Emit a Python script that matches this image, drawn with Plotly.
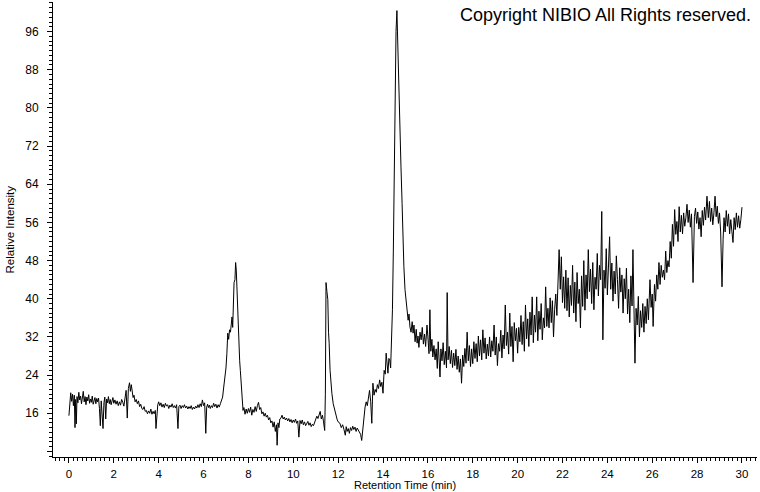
import plotly.graph_objects as go

# Chromatogram, split into named segments: (time min, relative intensity)
seg_baseline_t = [0.00,0.04,0.08,0.12,0.16,0.20,0.24,0.27,0.30,0.33,0.36,0.40,0.44,0.48,0.52,0.56,0.60,0.64,0.68,0.72,
                  0.76,0.80,0.84,0.88,0.92,0.96,1.00,1.04,1.08,1.12,1.16,1.20,1.24,1.28,1.32,1.36,1.40,1.44,1.48,1.52,
                  1.56,1.60,1.64,1.68,1.72,1.76,1.80,1.84,1.88,1.92,1.96,2.00,2.05,2.10,2.15,2.20,2.25,2.30,2.35,2.40,
                  2.45,2.50,2.55,2.60,2.65,2.70,2.74,2.78,2.82,2.86,2.90,2.95,3.00,3.05,3.10,3.15,3.20,3.25,3.30,3.35,
                  3.40,3.45,3.50,3.55,3.60,3.65,3.70,3.75,3.80,3.85,3.88,3.92,3.96,4.00,4.05,4.10,4.15,4.20,4.25,4.30,
                  4.35,4.40,4.45,4.50,4.55,4.60,4.65,4.70,4.75,4.80,4.86,4.90,4.95,5.00,5.05,5.10,5.15,5.20,5.25,5.30,
                  5.35,5.40,5.45,5.50,5.55,5.60,5.65,5.70,5.75,5.80,5.85,5.90,5.95,6.00,6.05,6.10,6.14,6.18,6.22,6.26,
                  6.30,6.35,6.40,6.45,6.50,6.55,6.60,6.65,6.70,6.75,6.80]
seg_baseline_v = [15.5,19.0,20.3,18.5,20.0,17.6,19.8,13.0,18.9,13.8,19.5,18.2,20.4,18.8,19.6,18.0,19.2,20.6,18.4,19.5,
                  17.8,19.4,18.6,19.9,18.1,19.0,18.3,19.6,17.9,18.8,19.3,18.0,19.1,18.4,19.2,17.0,13.4,18.6,14.0,12.8,
                  18.2,19.4,14.8,19.0,18.2,19.5,18.0,18.9,17.8,18.6,19.3,18.1,18.8,17.9,18.6,17.6,18.4,17.7,18.9,18.3,
                  17.5,19.2,20.8,15.0,21.2,22.4,20.6,22.0,21.0,19.3,19.8,18.4,18.9,18.0,18.6,17.4,17.9,17.0,16.8,17.4,
                  16.4,16.6,15.9,16.5,16.0,16.9,15.8,16.4,15.9,16.6,12.8,16.2,17.8,18.4,17.6,18.2,17.3,17.9,17.2,18.1,
                  17.5,17.8,17.0,17.7,17.3,18.0,17.2,17.6,17.1,17.8,12.8,17.4,17.7,17.0,17.6,17.2,17.8,17.1,17.5,16.9,
                  17.4,17.0,17.6,16.8,17.3,16.9,17.5,17.1,17.8,17.2,18.0,17.4,18.8,17.6,18.2,11.8,17.3,17.9,17.2,17.7,
                  17.0,17.6,17.2,18.1,17.4,17.9,17.1,17.8,17.3,18.0,18.6]

seg_peaks_t = [6.85,6.90,6.95,7.00,7.04,7.08,7.12,7.16,7.20,7.24,7.27,7.30,7.33,7.36,7.40,7.43,7.46,7.49,7.52,7.55,
               7.58,7.61,7.64,7.68,7.72,7.76,7.80,7.85,7.90,7.95,8.00,8.05,8.10,8.15,8.20,8.25,8.30,8.35,8.40,8.45,
               8.50,8.55,8.60,8.65,8.70,8.75,8.80,8.85,8.90,8.95,9.00,9.05,9.10,9.15,9.20,9.25,9.28,9.32,9.36,9.40,
               9.45,9.50,9.55,9.60,9.65,9.70,9.75,9.80,9.85,9.90,9.95,10.00,10.05,10.10,10.15,10.20,10.25,10.30,10.35,10.40,
               10.45,10.50,10.55,10.60,10.65,10.70,10.75,10.80,10.85,10.90,10.95,11.00,11.05,11.10,11.15,11.20,11.25,11.30,11.35,11.40,
               11.43,11.46,11.50,11.54,11.57,11.60,11.64,11.68,11.72,11.78,11.84,11.90,11.96,12.02,12.08,12.14,12.20,12.26,12.32,12.36,
               12.40,12.45,12.50,12.55,12.60,12.65,12.70,12.75,12.80,12.85,12.90,12.95,13.00,13.05,13.10,13.15,13.20,13.25,13.30,13.35,
               13.40,13.45,13.50,13.55,13.60,13.65,13.70,13.75,13.80,13.85,13.90,13.95,14.00,14.05,14.10,14.14,14.18,14.22,14.26,14.30,
               14.34,14.38,14.42,14.46,14.50,14.54,14.58,14.62,14.66,14.70,14.75,14.80,14.85,14.89,14.93,14.98,15.03,15.07,15.12,15.16,
               15.20,15.25,15.30,15.34,15.38,15.43,15.48,15.52,15.56,15.60,15.65,15.70,15.75,15.80,15.85,15.90,15.96,16.00,16.05,16.09,
               16.13,16.18,16.22,16.27,16.32,16.37,16.42,16.46,16.50]
seg_peaks_v = [19.4,21.5,23.0,25.5,28.5,32.8,31.5,33.5,33.0,35.5,36.2,34.0,38.5,43.4,44.0,47.6,46.0,41.9,36.0,30.7,
               29.3,27.0,25.0,21.8,19.4,16.6,17.2,15.8,16.9,16.0,17.0,16.2,17.3,15.6,16.8,16.2,17.4,16.4,17.6,18.3,
               16.8,17.2,15.9,16.3,15.4,16.0,15.2,15.6,14.6,15.1,14.0,14.4,13.1,14.2,12.2,13.6,9.3,14.0,13.0,14.8,
               15.0,15.6,14.8,15.2,14.6,15.0,14.4,14.9,14.2,14.7,14.0,14.6,14.1,14.8,13.9,14.4,11.0,14.5,13.8,14.6,
               13.6,14.2,13.4,13.9,14.3,13.5,14.0,13.2,13.7,13.4,14.2,14.8,15.4,14.9,16.0,16.4,14.8,15.6,14.2,12.4,
               20.0,43.4,41.5,39.8,33.0,30.7,25.0,21.5,20.2,18.0,16.6,15.4,14.6,14.1,13.9,13.0,13.6,12.6,11.4,13.2,
               12.2,12.8,11.8,13.0,12.4,13.3,12.6,13.1,12.2,12.9,12.4,12.0,11.6,10.3,12.8,15.0,17.3,18.4,17.6,19.2,
               20.8,18.5,13.9,22.3,19.8,21.0,20.4,22.0,21.2,23.0,21.6,22.5,20.2,25.0,24.2,28.6,26.0,24.4,27.5,27.2,
               25.5,32.0,37.7,50.0,63.0,85.5,96.0,100.4,92.4,81.9,73.0,67.8,60.0,52.0,46.7,41.9,39.0,37.7,35.5,36.8,
               34.1,33.0,35.2,32.8,34.5,31.0,33.6,30.7,32.2,29.8,33.0,31.4,34.0,30.5,32.6,30.0,34.5,32.0,28.5,37.7,
               29.0,31.5,27.8,30.2,27.2,29.5,25.4,31.0,26.0]

seg_rise_t = [16.54,16.58,16.63,16.68,16.73,16.78,16.83,16.86,16.90,16.95,17.00,17.05,17.10,17.15,17.20,17.25,17.30,17.35,17.40,17.45,
              17.50,17.55,17.60,17.65,17.70,17.75,17.80,17.85,17.90,17.95,18.00,18.05,18.10,18.15,18.20,18.25,18.30,18.35,18.40,18.45,
              18.50,18.55,18.60,18.65,18.70,18.75,18.80,18.85,18.90,18.95,19.00,19.05,19.10,19.15,19.20,19.25,19.30,19.35,19.40,19.45,
              19.50,19.55,19.60,19.65,19.70,19.75,19.80,19.85,19.90,19.95,20.00,20.05,20.10,20.15,20.20,20.25,20.30,20.35,20.40,20.45,
              20.50,20.55,20.60,20.65,20.70,20.75,20.80,20.85,20.90,20.95,21.00,21.05,21.10,21.15,21.20,21.25,21.30,21.35,21.40,21.45,
              21.50,21.55,21.60,21.65,21.70,21.75,21.80,21.85,21.90,21.95,22.00,22.05,22.10,22.15,22.20,22.25,22.30,22.35,22.40,22.45,
              22.50,22.55,22.60,22.65,22.70,22.75,22.80,22.85,22.90,22.95,23.00,23.05,23.10,23.15,23.20,23.25,23.30,23.35,23.40,23.45,
              23.50,23.55,23.60,23.65,23.70,23.75,23.80,23.85,23.90,23.95,24.00,24.05,24.10,24.15,24.20,24.25,24.30,24.35,24.40,24.45,
              24.50,24.55,24.60,24.65,24.70,24.75,24.80,24.85,24.90,24.95,25.00,25.05,25.10,25.14,25.18,25.23,25.28,25.33,25.38,25.43,
              25.48,25.53,25.58,25.63,25.68,25.73,25.78,25.83,25.90,25.95,26.00,26.04,26.10,26.15,26.20,26.25,26.30,26.35,26.40,26.45,
              26.50,26.55,26.60,26.65,26.70,26.75,26.80,26.85,26.90,26.95]
seg_rise_v = [23.6,29.5,27.0,30.8,26.2,29.0,25.5,41.3,27.2,30.0,26.4,29.2,25.6,28.6,26.0,29.4,25.2,28.0,24.6,27.4,
              22.3,28.2,25.8,29.6,26.5,33.0,27.0,30.2,25.8,29.5,26.4,31.0,27.5,30.6,26.8,32.2,28.0,31.4,27.2,33.5,
              28.6,31.8,27.4,30.5,28.0,32.0,27.8,31.2,29.0,34.5,28.2,32.0,26.0,30.6,29.0,33.4,27.6,32.4,29.5,38.7,
              30.2,33.0,28.4,37.0,30.0,34.2,26.8,35.0,31.2,33.8,28.6,34.0,31.0,36.5,30.4,35.2,29.0,38.7,31.6,35.8,
              30.0,37.2,32.4,40.4,30.8,36.6,33.0,40.4,31.2,37.4,33.6,39.0,31.4,36.0,33.9,42.5,34.2,38.0,33.9,40.2,
              35.0,39.6,32.0,37.8,41.0,36.5,44.0,50.3,42.0,48.8,39.2,44.6,38.0,46.0,37.5,44.4,36.2,42.8,38.6,47.0,
              37.0,43.5,35.2,45.5,39.0,42.0,33.9,44.8,38.4,48.0,37.6,45.0,40.0,50.3,41.5,46.2,39.0,47.6,37.7,44.5,
              42.0,49.5,40.6,47.0,44.0,58.3,31.4,46.0,42.2,50.5,40.8,48.2,53.0,42.0,47.5,39.5,45.8,41.0,49.0,44.0,
              38.0,46.5,41.4,45.0,37.0,44.2,40.0,46.4,36.8,42.0,35.0,44.8,38.5,50.3,36.0,26.5,38.0,34.5,40.5,32.0,
              37.5,34.0,39.0,33.0,38.4,34.8,40.0,35.6,44.0,38.2,41.0,34.2,43.0,39.5,45.0,42.0,47.6,43.0,47.0,44.5,
              46.0,44.0,50.0,45.5,48.0,46.7,52.0,48.5,55.6,51.0]

seg_plateau_t = [27.00,27.05,27.10,27.15,27.20,27.25,27.30,27.35,27.40,27.45,27.50,27.55,27.60,27.65,27.70,27.75,27.82,27.88,27.93,27.98,
                 28.03,28.08,28.13,28.18,28.23,28.28,28.33,28.38,28.44,28.50,28.55,28.60,28.65,28.70,28.75,28.80,28.85,28.90,28.95,29.00,
                 29.05,29.11,29.16,29.20,29.25,29.30,29.35,29.40,29.45,29.50,29.55,29.60,29.65,29.70,29.75,29.80,29.85,29.90,29.95,30.00]
seg_plateau_v = [58.7,53.5,56.2,52.0,59.3,54.0,57.5,53.6,58.0,55.2,57.0,59.8,56.0,58.6,55.0,57.8,43.4,57.2,59.0,55.8,
                 58.2,54.6,57.0,53.0,58.5,55.4,59.2,56.5,61.5,57.0,60.4,56.2,59.0,55.5,58.0,61.5,57.2,59.4,55.8,58.0,
                 54.0,42.5,52.5,57.0,54.0,58.5,55.2,57.8,53.6,56.6,54.2,51.8,57.0,54.5,58.0,55.0,57.4,54.8,56.6,59.2]

retention_time = seg_baseline_t + seg_peaks_t + seg_rise_t + seg_plateau_t
intensity = seg_baseline_v + seg_peaks_v + seg_rise_v + seg_plateau_v

x_major = list(range(0, 31, 2))
y_major = list(range(8, 101, 8))
y_labels = ["" if v == 8 else str(v) for v in y_major]

FONT = "Liberation Sans"

fig = go.Figure(go.Scatter(x=retention_time, y=intensity, mode="lines",
                           line=dict(color="black", width=1), hoverinfo="skip"))

fig.update_layout(
    width=760, height=492,
    margin=dict(l=53, r=3, t=2, b=35, autoexpand=False),
    paper_bgcolor="white", plot_bgcolor="white",
    showlegend=False,
    font=dict(family=FONT, size=12, color="black"),
    xaxis=dict(range=[-0.71, 30.67], tickvals=x_major, ticks="outside", ticklen=5,
               tickcolor="black", showline=True, linecolor="black", linewidth=1,
               showgrid=False, zeroline=False, tickfont=dict(size=11.5), automargin=False,
               ticklabelstandoff=1,
               minor=dict(dtick=0.2, tick0=0, ticks="outside", ticklen=3, tickcolor="black", showgrid=False)),
    yaxis=dict(range=[6.84, 102.2], tickvals=y_major, ticktext=y_labels, ticks="outside", ticklen=5,
               tickcolor="black", showline=True, linecolor="black", linewidth=1,
               showgrid=False, zeroline=False, tickfont=dict(size=12), automargin=False,
               ticklabelstandoff=6,
               minor=dict(dtick=1, tick0=0, ticks="outside", ticklen=3, tickcolor="black", showgrid=False)),
    annotations=[
        dict(text="Copyright NIBIO All Rights reserved.", xref="paper", yref="paper",
             x=1.0, xshift=-4, y=0.971, xanchor="right", yanchor="middle", showarrow=False,
             font=dict(family=FONT, size=18, color="black")),
        dict(text="Retention Time (min)", xref="paper", yref="paper",
             x=0.5, y=0, yshift=-35, xanchor="center", yanchor="bottom", showarrow=False,
             borderpad=0, font=dict(family=FONT, size=11, color="black")),
        dict(text="Relative Intensity", xref="paper", yref="paper", textangle=-90,
             x=0, xshift=-44, y=0.5, xanchor="center", yanchor="middle", showarrow=False,
             font=dict(family=FONT, size=11.5, color="black")),
    ],
)

fig.write_html("out.html", config={"displayModeBar": False},
               post_script="document.body.style.margin='0';document.body.style.overflow='hidden';")
